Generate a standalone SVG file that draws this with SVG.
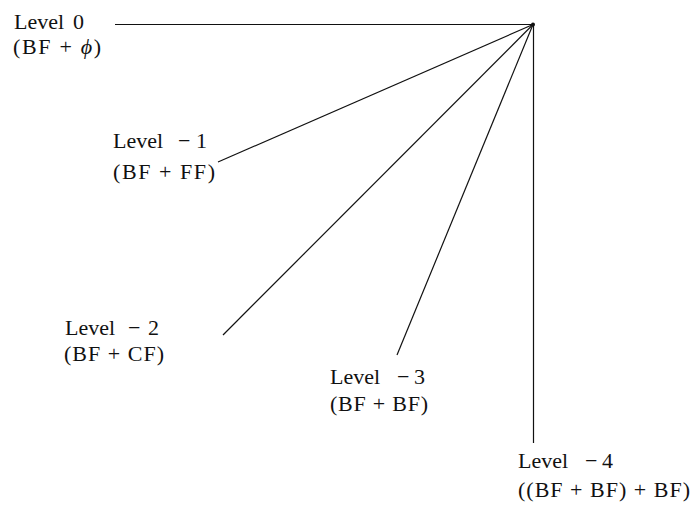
<svg xmlns="http://www.w3.org/2000/svg" width="691" height="513" viewBox="0 0 691 513">
<style>
text{font-family:"Liberation Serif","Times New Roman",serif;font-size:22px;fill:#111}
.ln{stroke:#111;stroke-width:1.2;fill:none}
</style>
<rect width="691" height="513" fill="#fff"/>
<g id="connectors">
<line class="ln" x1="115" y1="24.5" x2="533" y2="24.5"/>
<line class="ln" x1="218" y1="162" x2="533" y2="24.5"/>
<line class="ln" x1="223" y1="335" x2="533" y2="24.5"/>
<line class="ln" x1="397" y1="355" x2="533" y2="24.5"/>
<line class="ln" x1="533.5" y1="24.5" x2="533.5" y2="443"/>
<circle cx="533" cy="24.5" r="2" fill="#111"/>
</g>
<g id="level0"><text x="14" y="29">Level</text><text x="73" y="29">0</text><text x="13" y="54" textLength="88" lengthAdjust="spacing">(BF + <tspan font-style="italic">ϕ</tspan>)</text></g>
<g id="level-1"><text x="113" y="148">Level</text><text x="178" y="148" textLength="29" lengthAdjust="spacing">−1</text><text x="113" y="179" textLength="102" lengthAdjust="spacing">(BF + FF)</text></g>
<g id="level-2"><text x="65" y="335">Level</text><text x="128" y="335" textLength="31" lengthAdjust="spacing">−2</text><text x="64" y="361" textLength="100" lengthAdjust="spacing">(BF + CF)</text></g>
<g id="level-3"><text x="330" y="384">Level</text><text x="397" y="384" textLength="28" lengthAdjust="spacing">−3</text><text x="330" y="411" textLength="98" lengthAdjust="spacing">(BF + BF)</text></g>
<g id="level-4"><text x="518" y="468">Level</text><text x="585" y="468" textLength="28" lengthAdjust="spacing">−4</text><text x="518" y="497" textLength="172" lengthAdjust="spacing">((BF + BF) + BF)</text></g>
</svg>
